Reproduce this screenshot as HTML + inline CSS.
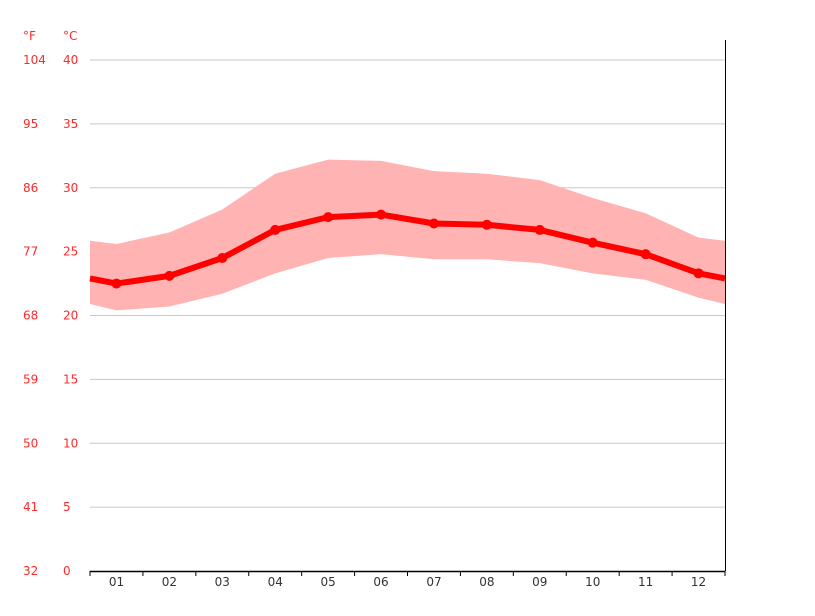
<!DOCTYPE html>
<html><head><meta charset="utf-8"><style>
body{margin:0;background:#fff;}
svg text{font-family:"DejaVu Sans","Liberation Sans",sans-serif;font-size:12px;}
</style></head><body>
<svg id="chart" width="815" height="611" xmlns="http://www.w3.org/2000/svg">
<g id="grid"></g>
<g id="band"></g>
<g id="line"></g>
<g id="axes"></g>
</svg>
<script>
const months=["01","02","03","04","05","06","07","08","09","10","11","12"];
const meanT=[22.5,23.1,24.5,26.7,27.7,27.9,27.2,27.1,26.7,25.7,24.8,23.3];
const maxT=[25.6,26.5,28.3,31.1,32.2,32.1,31.3,31.1,30.6,29.2,28.0,26.1];
const minT=[20.4,20.7,21.7,23.3,24.5,24.8,24.4,24.4,24.1,23.3,22.8,21.4];
const cTicks=[0,5,10,15,20,25,30,35,40];
const fTicks=["32","41","50","59","68","77","86","95","104"];
const NS="http://www.w3.org/2000/svg";
const X0=90,X1=725,Y0=571,Y40=60;
const step=(X1-X0)/12;
const xs=i=>X0+step*(i+0.5);
const ys=v=>Y0-(Y0-Y40)*v/40;
function mk(tag,attrs,parent){const e=document.createElementNS(NS,tag);for(const k in attrs)e.setAttribute(k,attrs[k]);parent.appendChild(e);return e;}
const gridG=document.getElementById('grid'),axesG=document.getElementById('axes'),bandG=document.getElementById('band'),lineG=document.getElementById('line');
cTicks.forEach((c,i)=>{
  const y=ys(c);
  if(c>0){const l=mk('line',{x1:X0,x2:X1,y1:y,y2:y,stroke:'#c8c8c8','stroke-width':1},gridG);
  
  }
  const t=mk('text',{x:63,y:y+4,fill:'#ff2a2a'},axesG);t.textContent=c;
  
  
  const f=mk('text',{x:23,y:y+4,fill:'#ff2a2a'},axesG);f.textContent=fTicks[i];
  
  
});
const fu=mk('text',{x:23,y:40,fill:'#ff2a2a'},axesG);fu.textContent="°F";


const cu=mk('text',{x:63,y:40,fill:'#ff2a2a'},axesG);cu.textContent="°C";


function edge(arr){return (arr[0]+arr[11])/2;}
function pts(arr){const p=[[X0,ys(edge(arr))]];arr.forEach((v,i)=>p.push([xs(i),ys(v)]));p.push([X1,ys(edge(arr))]);return p;}
const upperPts=pts(maxT),lowerPts=pts(minT).reverse();
const poly=mk('polygon',{points:upperPts.concat(lowerPts).map(p=>p.join(',')).join(' '),fill:'#ffb3b3'},bandG);


const mp=pts(meanT);
const pl=mk('polyline',{points:mp.map(p=>p.join(',')).join(' '),fill:'none',stroke:'#ff0000','stroke-width':6,'stroke-linejoin':'round'},lineG);


meanT.forEach((v,i)=>{const c=mk('circle',{cx:xs(i),cy:ys(v),r:5,fill:'#ff0000'},lineG);

});
const bx=mk('line',{x1:X0,x2:X1,y1:Y0+0.5,y2:Y0+0.5,stroke:'#000','stroke-width':1.5},axesG);


const ry=mk('line',{x1:X1+0.5,x2:X1+0.5,y1:40,y2:Y0,stroke:'#000','stroke-width':1},axesG);


for(let i=0;i<=12;i++){const tk=mk('line',{x1:X0+step*i,x2:X0+step*i,y1:Y0,y2:Y0+5,stroke:'#000','stroke-width':1},axesG);

}
months.forEach((m,i)=>{const t=mk('text',{x:xs(i),y:586,fill:'#333','text-anchor':'middle'},axesG);t.textContent=m;

});
</script>
</body></html>
